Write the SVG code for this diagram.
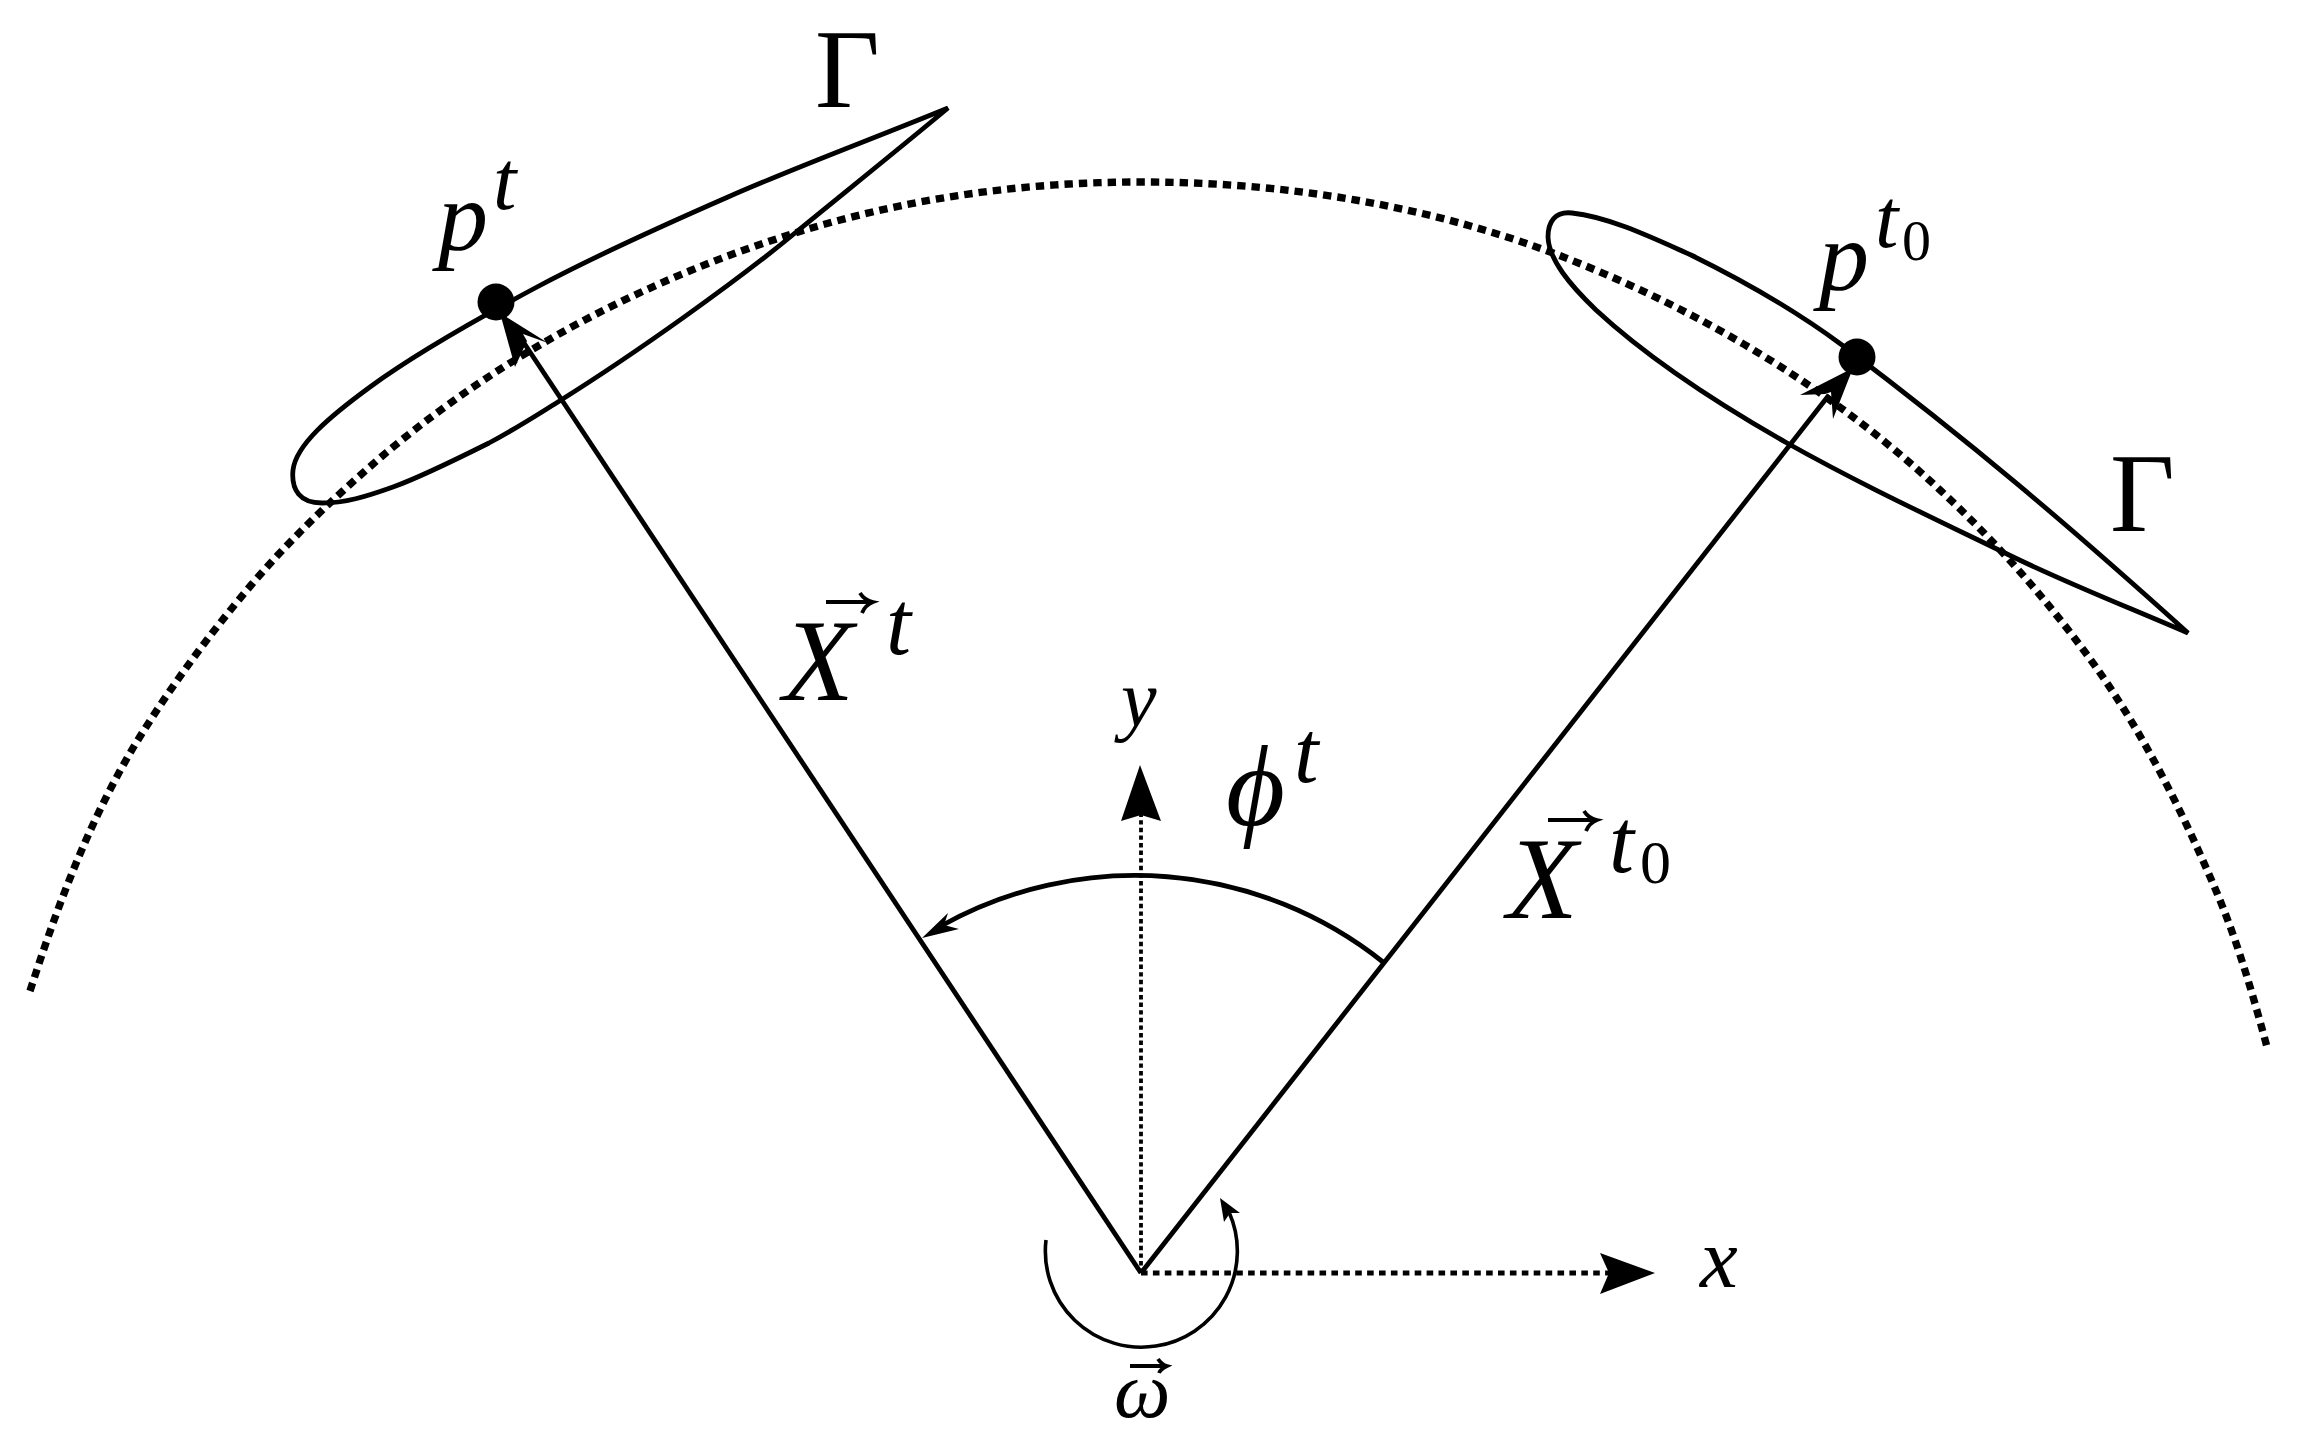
<svg xmlns="http://www.w3.org/2000/svg" width="2299" height="1443" viewBox="0 0 2299 1443">
<style>
.l{fill:none;stroke:#000;stroke-width:4.8}
.t{fill:none;stroke:#000;stroke-width:3.6}
.h{fill:#000;stroke:none}
.dy{fill:none;stroke:#000;stroke-width:3.8;stroke-dasharray:4.4 3.2}
.dx{fill:none;stroke:#000;stroke-width:5.2;stroke-dasharray:6.6 5.3}
.v{fill:none;stroke:#000;stroke-width:3.8}
.m{font-family:"Liberation Serif","DejaVu Serif",serif;font-style:italic;fill:#000}
.r{font-family:"Liberation Serif","DejaVu Serif",serif;font-style:normal;fill:#000}
</style>
<rect width="2299" height="1443" fill="#fff"/>
<g id="orbit"><path d="M30 991C57 907 88 824 133 748C168 690 208 636 252 584C293 536 339 493 387 452C507 352 647 279 795 233C907 198 1024 182 1141 182C1281 182 1422 204 1553 253C1695 307 1829 386 1940 490C1993 539 2042 594 2085 652C2140 726 2181 808 2217 893C2238 943 2253 995 2267 1047" fill="none" stroke="#000" stroke-width="7.4" stroke-dasharray="8.4 6"/></g>
<g id="connectors">
<path class="dy" d="M1141 1273V815"/>
<polygon class="h" points="1140,765 1161,821 1141,815 1121,821"/>
<path class="dx" d="M1141 1273H1610"/>
<polygon class="h" points="1655,1273 1600,1294 1609,1273 1600,1253"/>
<path class="l" d="M1141 1273L522 340"/>
<polygon class="h" points="500,313 548,343 523,334 527,341 515,367"/>
<path class="l" d="M1141 1273L1829 395"/>
<polygon class="h" points="1853,368 1833,419 1831,392 1825,394 1800,395"/>
<path class="l" d="M1383 962A398 398 0 0 0 941 926"/>
<polygon class="h" points="922,938 948,913 944,925 959,929"/>
<path class="t" d="M1046 1240A96 96 0 1 0 1229 1212"/>
<polygon class="h" points="1220,1198 1240,1213 1230,1213 1224,1222"/>
</g>
<g id="airfoil-left">
<path class="l" d="M948 108C875 138 796 167 728 197C664 225 597 255 537 287C477 319 411 357 370 387C329 417 296 445 293 470C291 490 300 503 322 503C345 503 365 497 393 487C421 477 461 457 489 443C517 428 529 420 561 400C636 353 737 281 795 233C839 197 900 148 948 108Z"/>
<circle class="h" cx="496" cy="302" r="18.5"/>
</g>
<g id="airfoil-right">
<path class="l" d="M2188 633C2067 524 1972 443 1842 345C1796 311 1742 280 1691 255C1655 239 1610 217 1572 213C1555 211 1548 222 1548 237C1549 260 1570 285 1596 310C1650 360 1720 405 1787 443C1858 483 1933 518 2007 554C2066 583 2128 607 2188 633Z"/>
<circle class="h" cx="1857" cy="357" r="18.5"/>
</g>
<g id="label-gamma-left"><text class="r" x="815" y="107" font-size="112">Γ</text></g>
<g id="label-gamma-right"><text class="r" x="2110" y="531" font-size="112">Γ</text></g>
<g id="label-p-t"><text class="m" x="438" y="250" font-size="100">p<tspan x="493" y="209" font-size="84">t</tspan></text></g>
<g id="label-p-t0"><text class="m" x="1819" y="290" font-size="100">p<tspan x="1875" y="247" font-size="84">t</tspan><tspan class="r" x="1902" y="260" font-size="58">0</tspan></text></g>
<g id="label-x-t"><text class="m" x="783" y="700" font-size="116">X<tspan x="886" y="654" font-size="90">t</tspan></text><path class="v" d="M826 602H872M860 593C863 598 868 601 873 602C868 604 864 608 862 613"/></g>
<g id="label-x-t0"><text class="m" x="1507" y="918" font-size="116">X<tspan x="1609" y="872" font-size="90">t</tspan><tspan class="r" x="1640" y="883" font-size="62">0</tspan></text><path class="v" d="M1548 820H1596M1584 811C1587 816 1592 819 1597 820C1592 822 1588 826 1586 831"/></g>
<g id="label-y"><text class="m" x="1121" y="726" font-size="80">y</text></g>
<g id="label-phi"><text class="m" x="1226" y="825" font-size="114">ϕ<tspan x="1294" y="782" font-size="88">t</tspan></text></g>
<g id="label-x"><text class="m" x="1700" y="1287" font-size="85">x</text></g>
<g id="label-omega"><text class="m" x="1114" y="1417" font-size="80">ω</text><path class="v" stroke-width="3" d="M1130 1366H1166M1158 1359C1160 1362 1163 1365 1167 1366C1163 1368 1160 1370 1159 1373"/></g>
</svg>
